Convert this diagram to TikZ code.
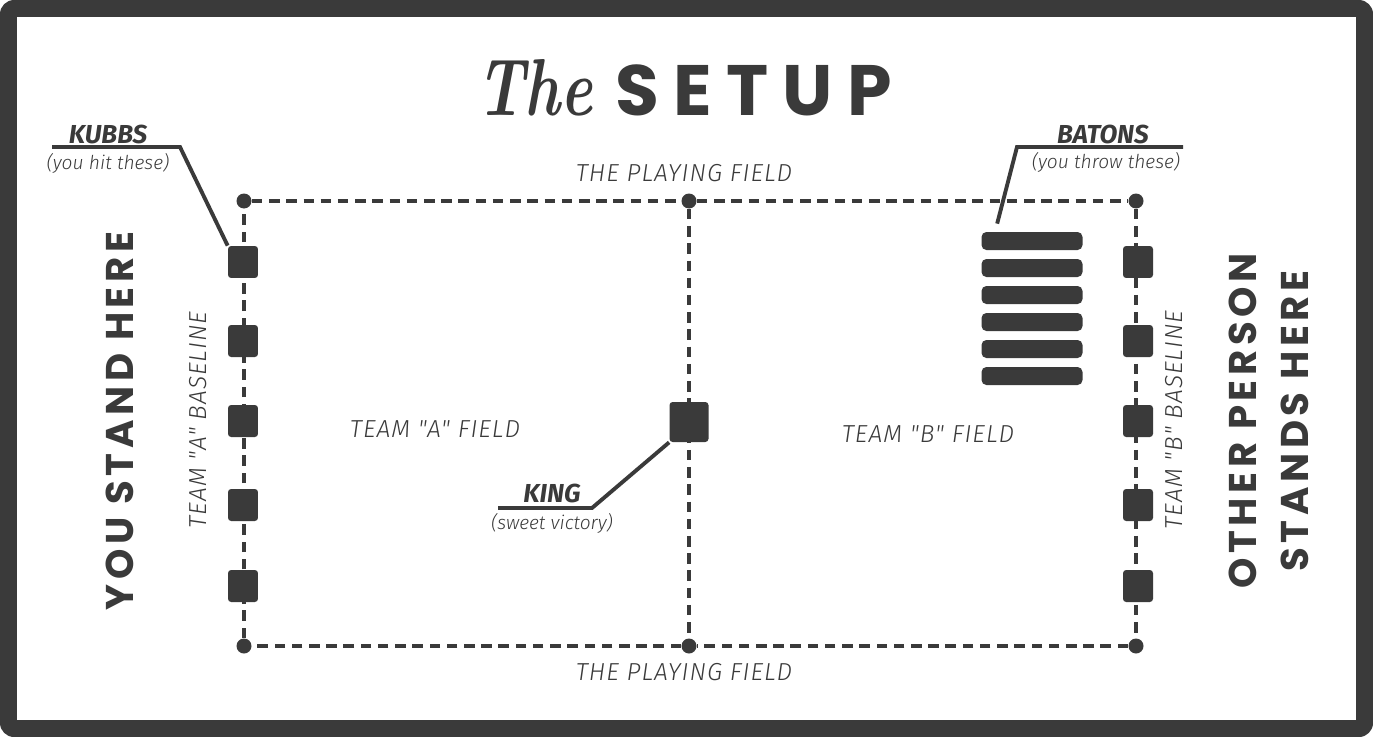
\documentclass[tikz,border=0pt]{standalone}
\usepackage{fontspec}
\setmainfont{Fira Sans}
\newfontfamily\thinfont[LetterSpace=4]{Fira Sans Light}
\newfontfamily\subfont{Fira Sans Light}
\newfontfamily\headfont[LetterSpace=12]{Poppins}
\newfontfamily\titlefont[LetterSpace=20]{Poppins}
\newfontfamily\scriptface{Latin Modern Roman}
\usetikzlibrary{positioning}
\definecolor{ink}{HTML}{3A3A3A}

\tikzset{
	field/.style={color=ink, line width=2.1pt, dash pattern=on 6pt off 3.8pt},
	post/.style={circle, fill=ink, inner sep=0pt, minimum size=0.3cm},
	kubb/.style={fill=ink, rounded corners=1.8pt, minimum width=0.6cm, minimum height=0.64cm, inner sep=0pt},
	baton/.style={fill=ink, rounded corners=2.8pt, minimum width=2.02cm, minimum height=0.36cm, inner sep=0pt},
	leader/.style={color=ink, line width=2.2pt},
	fieldtext/.style={text=ink, inner sep=0pt, font=\thinfont\itshape\fontsize{14}{16}\selectfont},
	tagtext/.style={text=ink, inner sep=0pt, font=\bfseries\itshape\fontsize{14.8}{17}\selectfont},
	subtext/.style={text=ink, inner sep=0pt, font=\subfont\itshape\fontsize{10.9}{13}\selectfont},
	standtext/.style={text=ink, inner sep=0pt, rotate=90, align=center, font=\headfont\bfseries\fontsize{22}{29.5}\selectfont}
}

\begin{document}
\begin{tikzpicture}[x=0.02cm, y=-0.02cm]
	\useasboundingbox (0,0) rectangle (1373,737);
	% frame
	\fill[ink, rounded corners=8pt] (0,0) rectangle (1373,737);
	\fill[white] (17,17) rectangle (1356,720);

	% title
	\node[anchor=base east, inner sep=0pt, xscale=0.75, text=ink, font=\scriptface\bfseries\itshape\fontsize{46}{50}\selectfont] (titlethe) at (593,115) {The};
	\node[anchor=base west, inner sep=0pt, text=ink, font=\titlefont\bfseries\fontsize{40.6}{45}\selectfont] (titlesetup) at (615,115) {SETUP};

	% posts of the field
	\node[post] (pa1) at (244,201) {};
	\node[post] (pm1) at (689,201) {};
	\node[post] (pb1) at (1136,201) {};
	\node[post] (pa2) at (244,646) {};
	\node[post] (pm2) at (689,646) {};
	\node[post] (pb2) at (1136,646) {};
	\draw[field] (pa1) -- (pm1) -- (pb1) -- (pb2) -- (pm2) -- (pa2) -- (pa1);
	\draw[field] (pm1) -- (pm2);

	% kubbs on team A baseline
	\node[kubb] (ka1) at (243,262) {};
	\node[kubb] (ka2) at (243,341) {};
	\node[kubb] (ka3) at (243,421) {};
	\node[kubb] (ka4) at (243,505) {};
	\node[kubb] (ka5) at (243,586) {};
	% kubbs on team B baseline
	\node[kubb] (kb1) at (1138,262) {};
	\node[kubb] (kb2) at (1138,341) {};
	\node[kubb] (kb3) at (1138,421) {};
	\node[kubb] (kb4) at (1138,505) {};
	\node[kubb] (kb5) at (1138,586) {};
	% king
	\node[kubb, minimum width=0.78cm, minimum height=0.8cm] (king) at (689,422) {};

	% batons
	\node[baton] (bt1) at (1032,241) {};
	\node[baton] (bt2) at (1032,268) {};
	\node[baton] (bt3) at (1032,295) {};
	\node[baton] (bt4) at (1032,322) {};
	\node[baton] (bt5) at (1032,349) {};
	\node[baton] (bt6) at (1032,376) {};

	% leaders and their labels
	\coordinate (kubbsend) at (52,147);
	\draw[leader] (kubbsend) -- ++(128,0) -- (ka1.north west);
	\node[tagtext, anchor=base] (kubbstag) at (108,143) {KUBBS};
	\node[subtext] (kubbssub) at (108,163) {(you hit these)};

	\coordinate (batonsend) at (1183,147);
	\draw[leader] (batonsend) -- ++(-166,0) -- ([shift={(16,-8)}]bt1.north west);
	\node[tagtext, anchor=base] (batonstag) at (1103,143) {BATONS};
	\node[subtext] (batonssub) at (1106,162) {(you throw these)};

	\coordinate (kingend) at (498,508);
	\draw[leader] (kingend) -- ++(94,0) -- (king.south west);
	\node[tagtext, anchor=base] (kingtag) at (552,502) {KING};
	\node[subtext] (kingsub) at (552,523) {(sweet victory)};

	% field texts
	\node[fieldtext] (playtop) at (684,173) {THE PLAYING FIELD};
	\node[fieldtext] (playbottom) at (684,672) {THE PLAYING FIELD};
	\node[fieldtext] (fielda) at (435,429) {TEAM "A" FIELD};
	\node[fieldtext] (fieldb) at (928,434) {TEAM "B" FIELD};
	\node[fieldtext, rotate=90] (basea) at (198,420) {TEAM "A" BASELINE};
	\node[fieldtext, rotate=90] (baseb) at (1174,420) {TEAM "B" BASELINE};

	% where the players stand
	\node[standtext] (youstand) at (120,421) {YOU STAND HERE};
	\node[standtext] (otherstand) at (1269,421) {OTHER PERSON\\STANDS HERE};
\end{tikzpicture}
\end{document}
